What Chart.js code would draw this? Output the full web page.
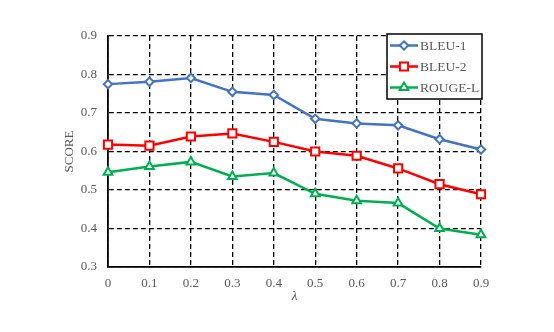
<!DOCTYPE html>
<html>
<head>
<meta charset="utf-8">
<script src="https://cdn.jsdelivr.net/npm/chart.js@4/dist/chart.umd.min.js"></script>
<style>
  html, body { margin: 0; padding: 0; background: #fff; }
  #wrap { width: 554px; height: 332px; }
</style>
</head>
<body>
<div id="wrap"><canvas id="score_vs_lambda"></canvas></div>
<script>
var lambdas = ['0', '0.1', '0.2', '0.3', '0.4', '0.5', '0.6', '0.7', '0.8', '0.9'];
var bleu1 = [0.775, 0.781, 0.791, 0.755, 0.747, 0.685, 0.673, 0.668, 0.632, 0.605];
var bleu2 = [0.618, 0.615, 0.639, 0.647, 0.625, 0.600, 0.589, 0.556, 0.515, 0.489];
var rougeL = [0.546, 0.561, 0.573, 0.535, 0.544, 0.490, 0.472, 0.466, 0.400, 0.384];

var serif = '"Liberation Serif", "Times New Roman", serif';
var grey = '#595959';

function series(label, data, color, style, radius) {
   return {
      label: label,
      data: data,
      borderColor: color,
      backgroundColor: color,
      borderWidth: 2.5,
      pointStyle: style,
      pointRadius: radius,
      pointHoverRadius: radius,
      pointBorderWidth: 2,
      pointBorderColor: color,
      pointBackgroundColor: '#fff',
      tension: 0,
      clip: false
   }
}

function drawMarker(ctx, style, x, y, r) {
   ctx.beginPath();
   if (style === 'rectRot') {
      ctx.moveTo(x, y - r); ctx.lineTo(x + r, y); ctx.lineTo(x, y + r); ctx.lineTo(x - r, y);
   } else if (style === 'rect') {
      var s = Math.SQRT1_2 * r;
      ctx.rect(x - s, y - s, 2 * s, 2 * s);
   } else {
      ctx.moveTo(x, y - r);
      ctx.lineTo(x + r * Math.sin(2 * Math.PI / 3), y - r * Math.cos(2 * Math.PI / 3));
      ctx.lineTo(x + r * Math.sin(4 * Math.PI / 3), y - r * Math.cos(4 * Math.PI / 3));
   }
   ctx.closePath();
   ctx.fill();
   ctx.stroke();
}

// boxed legend inside the plot area, top right
var boxLegend = {
   id: 'boxLegend',
   afterDraw: function (chart) {
      var ctx = chart.ctx, a = chart.chartArea;
      var w = 95, h = 65, left = a.right - w + 1, top = a.top - 2;
      ctx.save();
      ctx.fillStyle = '#fff';
      ctx.fillRect(left, top, w, h);
      ctx.strokeStyle = '#000';
      ctx.lineWidth = 1.5;
      ctx.strokeRect(left, top, w, h);
      ctx.font = '13.5px ' + serif;
      ctx.textBaseline = 'middle';
      chart.data.datasets.forEach(function (ds, i) {
         var y = top + 11.5 + i * 21;
         ctx.strokeStyle = ds.borderColor;
         ctx.lineWidth = 2.5;
         ctx.beginPath();
         ctx.moveTo(left + 3, y);
         ctx.lineTo(left + 31, y);
         ctx.stroke();
         ctx.lineWidth = 2;
         ctx.fillStyle = '#fff';
         drawMarker(ctx, ds.pointStyle, left + 17, y, ds.pointRadius);
         ctx.fillStyle = grey;
         ctx.fillText(ds.label, left + 33, y + 0.5);
      });
      ctx.restore();
   }
};

new Chart(document.getElementById('score_vs_lambda').getContext('2d'), {
   type: 'line',
   data: {
      labels: lambdas,
      datasets: [
         series('BLEU-1', bleu1, '#4472C4', 'rectRot', 4.2),
         series('BLEU-2', bleu2, '#FF0000', 'rect', 5.8),
         series('ROUGE-L', rougeL, '#00B050', 'triangle', 5)
      ]
   },
   options: {
      responsive: true,
      maintainAspectRatio: false,
      animation: false,
      events: [],
      layout: { padding: { left: 58, right: 73, top: 36, bottom: 0 } },
      plugins: { legend: { display: false }, tooltip: { enabled: false } },
      scales: {
         x: {
            afterFit: function (s) { s.height = 65; },
            grid: { color: '#000', lineWidth: 1.3, drawTicks: false },
            border: { display: true, color: '#000', width: 1.8, dash: [5, 3] },
            ticks: { color: grey, padding: 9, maxRotation: 0, font: { family: serif, size: 13 } },
            title: {
               display: true, text: 'λ', color: grey,
               padding: { top: 0, bottom: 28 },
               font: { family: serif, size: 13, style: 'italic' }
            }
         },
         y: {
            min: 0.3,
            max: 0.9,
            afterFit: function (s) { s.width = 50; },
            grid: { color: '#000', lineWidth: 1.3, drawTicks: false },
            border: { display: true, color: '#000', width: 1.8, dash: [5, 3] },
            ticks: {
               stepSize: 0.1, color: grey, padding: 11,
               font: { family: serif, size: 13 },
               callback: function (v) { return v.toFixed(1); }
            },
            title: {
               display: true, text: 'SCORE', color: grey,
               padding: { top: 4, bottom: 0 },
               font: { family: serif, size: 13 }
            }
         }
      }
   },
   plugins: [boxLegend]
});
</script>
</body>
</html>
